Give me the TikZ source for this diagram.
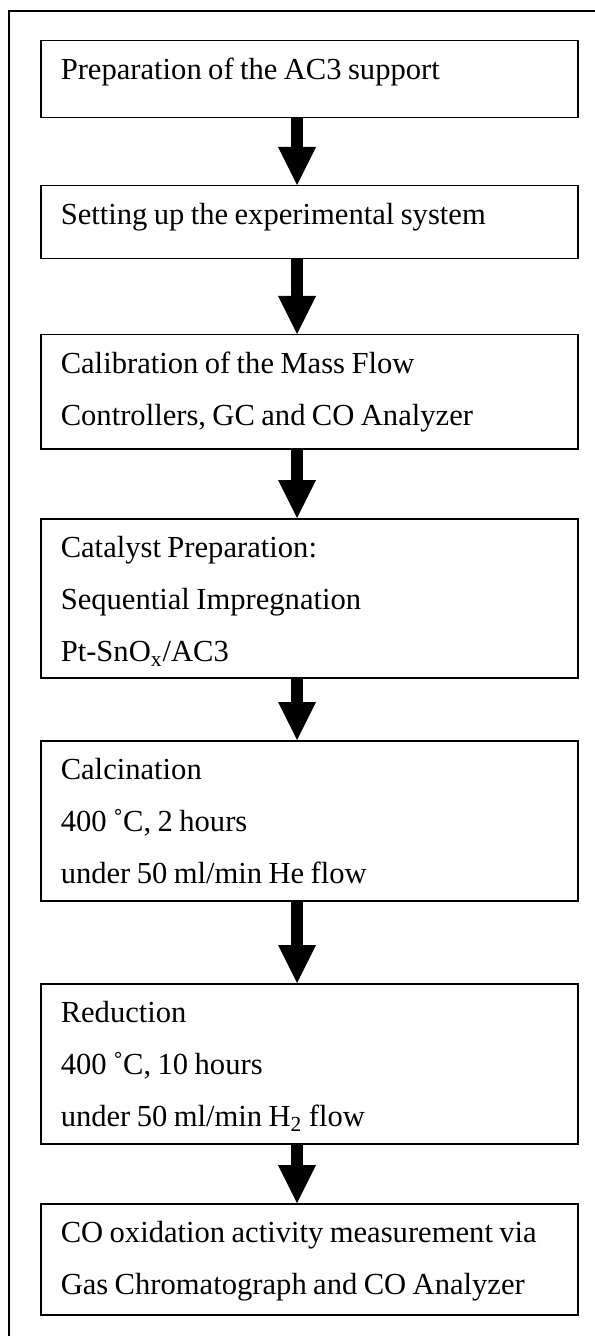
\documentclass[tikz,border=0pt]{standalone}
\usepackage{fontspec}
\setmainfont{Liberation Serif}
\usetikzlibrary{arrows.meta}

\begin{document}
\begin{tikzpicture}[x=0.5pt,y=-0.5pt,
  stepbox/.style={
    draw, line width=0.75pt, anchor=north west,
    inner xsep=10pt, inner ysep=0pt,
    text width=248.5pt, align=left, text height=19.5pt,
    font=\fontsize{15.3pt}{26pt}\selectfont,
    execute at begin node={\spaceskip=3.2pt\relax},
  },
  flow/.style={line width=6pt, -{Triangle[width=19pt,length=19pt,line width=0pt]}}]
  \useasboundingbox (0,0) rectangle (594,1336);
  \draw[line width=0.65pt] (9,1345) |- (605,11);
  \coordinate (axis) at (297,0);
  \node[stepbox, text depth=19pt] (prep) at (40,40) {Preparation of the AC3 support};
  \node[stepbox, text depth=17pt] (setup) at (40,185) {Setting up the experimental system};
  \node[stepbox, text depth=37.5pt] (calib) at (40,334) {Calibration of the Mass Flow\\ Controllers, GC and CO Analyzer};
  \node[stepbox, text depth=60pt] (cat) at (40,518) {Catalyst Preparation:\\ Sequential Impregnation\\ Pt-SnO\textsubscript{x}/AC3};
  \node[stepbox, text depth=60.5pt] (calc) at (40,740) {Calcination\\ 400 ˚C, 2 hours\\ under 50 ml/min He flow};
  \node[stepbox, text depth=60.5pt] (red) at (40,983) {Reduction\\ 400 ˚C, 10 hours\\ under 50 ml/min H\textsubscript{2} flow};
  \node[stepbox, text depth=36pt] (meas) at (40,1203) {CO oxidation activity measurement via\\ Gas Chromatograph and CO Analyzer};
  \draw[flow] (prep.south -| axis) -- (setup.north -| axis);
  \draw[flow] (setup.south -| axis) -- (calib.north -| axis);
  \draw[flow] (calib.south -| axis) -- (cat.north -| axis);
  \draw[flow] (cat.south -| axis) -- (calc.north -| axis);
  \draw[flow] (calc.south -| axis) -- (red.north -| axis);
  \draw[flow] (red.south -| axis) -- (meas.north -| axis);
\end{tikzpicture}
\end{document}
